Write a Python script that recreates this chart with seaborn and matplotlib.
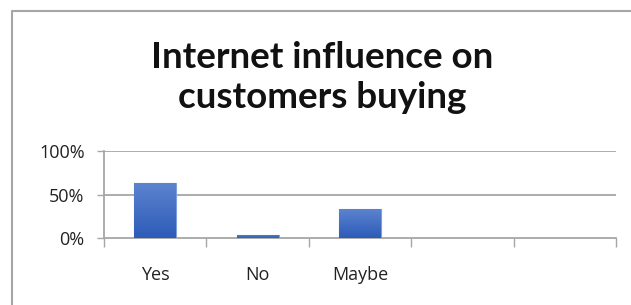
import numpy as np
import pandas as pd
import matplotlib
matplotlib.use("Agg")
import matplotlib.pyplot as plt
import seaborn as sns
from matplotlib.lines import Line2D
from matplotlib.colors import LinearSegmentedColormap

categories = ["Yes", "No", "Maybe"]
values = [0.63, 0.04, 0.33]
ytick_vals = [0.0, 0.5, 1.0]
ytick_labels = ["0%", "50%", "100%"]
title_lines = ["Internet influence on", "customers buying"]

sns.set_theme(style="white")
plt.rcParams["font.family"] = ["Open Sans", "DejaVu Sans"]

W, H = 631, 305
fig = plt.figure(figsize=(W / 100, H / 100), dpi=100)
ax = fig.add_axes([104 / W, (H - 238) / H, (616 - 104) / W, (238 - 151) / H])

df = pd.DataFrame({"cat": categories, "val": values})
sns.barplot(data=df, x="cat", y="val", order=categories, width=0.41,
            color="#3E68C4", edgecolor="#7F9EDD", linewidth=0.8, ax=ax, zorder=3)

# gradient fill inside each bar
cmap = LinearSegmentedColormap.from_list("g", ["#2C5BB8", "#5D83CF"])
grad = np.linspace(0, 1, 256).reshape(-1, 1)
for p in ax.patches:
    x0, y0 = p.get_x(), p.get_y()
    w, h = p.get_width(), p.get_height()
    im = ax.imshow(grad, cmap=cmap, origin="lower", aspect="auto",
                   extent=[x0, x0 + w, y0, y0 + h], zorder=3.5)
    im.set_clip_path(p)

ax.set_xlim(-0.5, 4.5)
ax.set_ylim(0, 1)
ax.set_xlabel("")
ax.set_ylabel("")

# gridlines
for v in ytick_vals[1:]:
    ax.axhline(v, color="#A6A6A6", lw=1.3, zorder=1)

ax.set_yticks(ytick_vals)
ax.set_yticklabels(ytick_labels)
ax.set_xticks(range(len(categories)))
ax.set_xticklabels(categories)
ax.set_xticks(np.arange(-0.5, 5.0, 1.0), minor=True)

ax.tick_params(axis="y", which="major", length=5, width=1.0, color="#A6A6A6",
               pad=9, labelsize=13, labelcolor="#222222", left=True)
ax.tick_params(axis="x", which="major", length=0, pad=20, labelsize=13,
               labelcolor="#222222")
ax.tick_params(axis="x", which="minor", length=6.5, width=1.0, color="#A6A6A6",
               bottom=True, direction="out")

for s in ["top", "right"]:
    ax.spines[s].set_visible(False)
for s in ["left", "bottom"]:
    ax.spines[s].set_color("#A6A6A6")
    ax.spines[s].set_linewidth(1.3)

# title, two lines, baselines placed like the reference
for line, base_y in zip(title_lines, [68, 108]):
    fig.text(322 / W, 1 - base_y / H, line, ha="center", va="baseline",
             fontsize=26.5, fontweight="bold", family=["Lato", "DejaVu Sans"],
             color="#111111")

# chart frame (top and left edges visible)
fig.add_artist(Line2D([11.5 / W, 11.5 / W, 1.0], [0.0, 1 - 10.5 / H, 1 - 10.5 / H],
                      transform=fig.transFigure, color="#A6A6A6", lw=1.5))

fig.savefig("out.png", dpi=100, facecolor="white")
